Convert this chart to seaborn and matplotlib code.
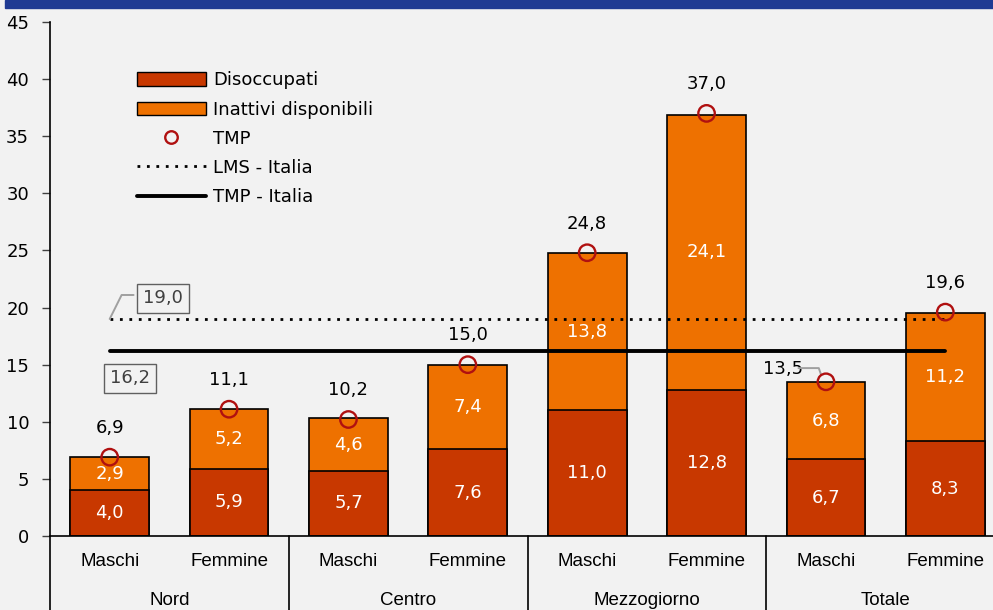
import matplotlib
matplotlib.use("Agg")
import matplotlib.pyplot as plt
import matplotlib.transforms as mtransforms
from matplotlib.patches import Patch, Rectangle
from matplotlib.lines import Line2D
import pandas as pd
import seaborn as sns

groups = ["Nord", "Centro", "Mezzogiorno", "Totale"]
sexes = ["Maschi", "Femmine"]
disoccupati = [4.0, 5.9, 5.7, 7.6, 11.0, 12.8, 6.7, 8.3]
inattivi = [2.9, 5.2, 4.6, 7.4, 13.8, 24.1, 6.8, 11.2]
tmp = [6.9, 11.1, 10.2, 15.0, 24.8, 37.0, 13.5, 19.6]
lms_italia = 19.0
tmp_italia = 16.2

keys = [g + " " + s for g in groups for s in sexes]
df = pd.DataFrame({"key": keys, "dis": disoccupati, "ina": inattivi, "tmp": tmp})
df["tot"] = df["dis"] + df["ina"]

sns.set_theme(style="white")
plt.rcParams["font.family"] = ["DejaVu Sans"]
plt.rcParams["text.color"] = "black"
plt.rcParams["xtick.labelcolor"] = "black"
plt.rcParams["ytick.labelcolor"] = "black"
narrow = ["Liberation Sans", "DejaVu Sans"]

bg = "#f2f2f2"
c_dis = "#c83800"
c_ina = "#ee7100"
c_tmp = "#b01010"
fs = 13


def fmt(v):
    return f"{v:.1f}".replace(".", ",")


fig = plt.figure(figsize=(9.93, 6.10), dpi=100, facecolor=bg)
ax = fig.add_axes([50 / 993, 74 / 610, 955 / 993, 514 / 610])
ax.set_facecolor(bg)

sns.barplot(data=df, x="key", y="tot", color=c_ina, saturation=1, width=0.66,
            edgecolor="black", linewidth=1.2, ax=ax, zorder=2)
sns.barplot(data=df, x="key", y="dis", color=c_dis, saturation=1, width=0.66,
            edgecolor="black", linewidth=1.2, ax=ax, zorder=2)

n = len(keys)
ax.plot([0, n - 1], [lms_italia, lms_italia], color="black", lw=2, ls=(0, (1, 2.4)), zorder=4)
ax.plot([0, n - 1], [tmp_italia, tmp_italia], color="black", lw=2.8, zorder=4)
ax.scatter(range(n), df["tmp"], s=140, facecolors="none", edgecolors=c_tmp, linewidths=1.7, zorder=5)

for i, row in df.iterrows():
    ax.text(i, row["dis"] / 2, fmt(row["dis"]), ha="center", va="center",
            color="white", fontsize=fs, zorder=6)
    ax.text(i, row["dis"] + row["ina"] / 2, fmt(row["ina"]), ha="center",
            va="center", color="white", fontsize=fs, zorder=6)
    if i == 6:
        ax.text(i - 0.36, 14.6, fmt(row["tmp"]), ha="center", va="center", fontsize=fs)
    else:
        ax.annotate(fmt(row["tmp"]), (i, row["tmp"]), xytext=(0, 21),
                    textcoords="offset points", ha="center", va="center", fontsize=fs)

# leader for 13,5
ax.plot([5.77, 5.94, 5.96], [14.7, 14.7, 14.1], color="#a0a0a0", lw=1.4, zorder=4)

# boxed Italia labels
ax.text(0.446, 20.8, fmt(lms_italia), ha="center", va="center", fontsize=fs, color="#404040",
        bbox=dict(boxstyle="square,pad=0.32", fc=bg, ec="#606060", lw=1), zorder=6)
ax.plot([0, 0.1, 0.2], [19.0, 21.1, 21.1], color="#a0a0a0", lw=1.4, zorder=4)
ax.text(0.17, 13.8, fmt(tmp_italia), ha="center", va="center", fontsize=fs, color="#404040",
        bbox=dict(boxstyle="square,pad=0.32", fc=bg, ec="#606060", lw=1), zorder=6)

ax.set_xlim(-0.5, n - 0.5)
ax.set_ylim(0, 45)
ax.set_yticks(range(0, 46, 5))
ax.tick_params(axis="y", labelsize=fs, length=6, width=1, color="#404040", pad=9, left=True)
ax.set_xticks(range(n))
ax.set_xticklabels(sexes * len(groups), fontsize=13.5, family=narrow)
ax.tick_params(axis="x", length=0, pad=12)
ax.set_xlabel("")
ax.set_ylabel("")
for s in ["top", "right"]:
    ax.spines[s].set_visible(False)
for s in ["left", "bottom"]:
    ax.spines[s].set_color("black")
    ax.spines[s].set_linewidth(1.2)

trans = mtransforms.blended_transform_factory(ax.transData, ax.transAxes)
for xs in [-0.5, 1.5, 3.5, 5.5]:
    ax.add_line(Line2D([xs, xs], [0, -0.2], transform=trans, color="black", lw=1.2, clip_on=False))
for gi, g in enumerate(groups):
    ax.text(gi * 2 + 0.5, -0.125, g, transform=trans, ha="center", va="center",
            fontsize=13.5, family=narrow)

handles = [
    Patch(facecolor=c_dis, edgecolor="black", label="Disoccupati"),
    Patch(facecolor=c_ina, edgecolor="black", label="Inattivi disponibili"),
    Line2D([], [], marker="o", ls="none", mfc="none", mec=c_tmp, mew=1.7, ms=9, label="TMP"),
    Line2D([], [], color="black", lw=2, ls=(0, (1, 2.4)), label="LMS - Italia"),
    Line2D([], [], color="black", lw=2.8, label="TMP - Italia"),
]
ax.legend(handles=handles, loc="upper left", bbox_to_anchor=(0.0835, 0.918), frameon=False,
          fontsize=fs, handlelength=3.8, handleheight=0.75, handletextpad=0.4,
          labelspacing=0.62, borderaxespad=0)

fig.patches.append(Rectangle((5 / 993, 1 - 8 / 610), 1, 8 / 610, transform=fig.transFigure,
                             color="#1f3a93", zorder=0))

fig.savefig("out.png", dpi=100, facecolor=bg)
